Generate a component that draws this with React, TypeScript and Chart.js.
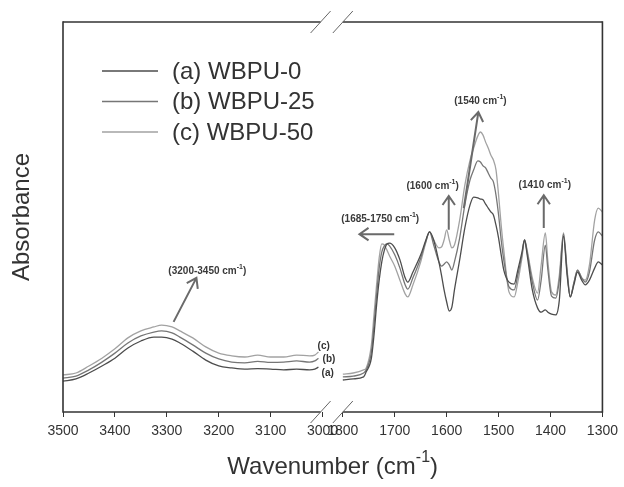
import React, { useEffect, useRef } from 'react';
import { Chart, registerables } from 'chart.js';

Chart.register(...registerables);

// ---- data ----
const WN_LEFT = [3500, 3475, 3450, 3425, 3400, 3375, 3350, 3325, 3310, 3290, 3275, 3250, 3225, 3200, 3175, 3150, 3125, 3100, 3075, 3050, 3025, 3015, 3008];
const A_LEFT = [0.079, 0.085, 0.100, 0.118, 0.138, 0.164, 0.182, 0.192, 0.192, 0.187, 0.177, 0.156, 0.133, 0.118, 0.113, 0.110, 0.111, 0.110, 0.108, 0.110, 0.108, 0.110, 0.115];
const B_LEFT = [0.087, 0.092, 0.108, 0.128, 0.151, 0.177, 0.195, 0.205, 0.208, 0.203, 0.192, 0.172, 0.151, 0.136, 0.128, 0.126, 0.130, 0.127, 0.128, 0.131, 0.128, 0.131, 0.138];
const C_LEFT = [0.095, 0.100, 0.118, 0.138, 0.162, 0.190, 0.208, 0.218, 0.223, 0.218, 0.208, 0.190, 0.167, 0.151, 0.144, 0.141, 0.146, 0.141, 0.141, 0.146, 0.144, 0.146, 0.154];

const WN_RIGHT = [1800, 1780, 1760, 1755, 1745, 1740, 1735, 1730, 1725, 1720, 1715, 1710, 1700, 1690, 1680, 1675, 1665, 1650, 1640, 1633, 1625, 1615, 1610, 1605, 1600, 1595, 1590, 1585, 1575, 1565, 1555, 1548, 1540, 1535, 1530, 1525, 1520, 1515, 1510, 1505, 1500, 1495, 1490, 1480, 1470, 1463, 1455, 1450, 1445, 1435, 1425, 1418, 1410, 1405, 1398, 1390, 1383, 1375, 1368, 1362, 1355, 1348, 1340, 1333, 1325, 1315, 1308, 1300];
const A_RIGHT = [0.082, 0.085, 0.090, 0.103, 0.138, 0.197, 0.274, 0.338, 0.385, 0.415, 0.431, 0.433, 0.421, 0.390, 0.344, 0.333, 0.359, 0.403, 0.441, 0.462, 0.441, 0.385, 0.351, 0.313, 0.282, 0.259, 0.269, 0.313, 0.390, 0.472, 0.531, 0.551, 0.549, 0.546, 0.544, 0.533, 0.523, 0.513, 0.505, 0.479, 0.446, 0.403, 0.364, 0.333, 0.328, 0.364, 0.410, 0.441, 0.403, 0.313, 0.267, 0.256, 0.262, 0.256, 0.251, 0.249, 0.287, 0.451, 0.351, 0.295, 0.326, 0.359, 0.338, 0.326, 0.338, 0.369, 0.385, 0.377];
const B_RIGHT = [0.090, 0.092, 0.100, 0.108, 0.154, 0.223, 0.300, 0.369, 0.410, 0.426, 0.431, 0.426, 0.403, 0.369, 0.326, 0.315, 0.344, 0.395, 0.438, 0.462, 0.428, 0.385, 0.374, 0.379, 0.385, 0.377, 0.364, 0.385, 0.446, 0.531, 0.595, 0.621, 0.644, 0.641, 0.631, 0.626, 0.613, 0.600, 0.590, 0.556, 0.505, 0.441, 0.390, 0.321, 0.313, 0.351, 0.403, 0.441, 0.410, 0.333, 0.287, 0.338, 0.428, 0.364, 0.297, 0.292, 0.338, 0.456, 0.359, 0.295, 0.331, 0.364, 0.344, 0.333, 0.359, 0.441, 0.462, 0.451];
const C_RIGHT = [0.097, 0.100, 0.108, 0.113, 0.172, 0.249, 0.326, 0.395, 0.431, 0.428, 0.415, 0.400, 0.374, 0.338, 0.303, 0.295, 0.326, 0.385, 0.436, 0.462, 0.441, 0.421, 0.423, 0.441, 0.467, 0.441, 0.421, 0.428, 0.492, 0.582, 0.646, 0.677, 0.708, 0.718, 0.710, 0.692, 0.677, 0.659, 0.646, 0.621, 0.556, 0.479, 0.415, 0.308, 0.295, 0.333, 0.395, 0.441, 0.415, 0.344, 0.305, 0.377, 0.459, 0.385, 0.308, 0.300, 0.351, 0.459, 0.364, 0.295, 0.331, 0.364, 0.344, 0.338, 0.377, 0.492, 0.523, 0.513];

const SERIES_LABELS = ['(a) WBPU-0', '(b) WBPU-25', '(c) WBPU-50'];
const END_LABELS = ['(a)', '(b)', '(c)'];
const END_LABEL_Y = [0.100, 0.136, 0.169];
const SERIES_COLORS = ['#4d4d4d', '#767676', '#a2a2a2'];
const TICK_WN = [3500, 3400, 3300, 3200, 3100, 3000, 1800, 1700, 1600, 1500, 1400, 1300];
const X_TITLE = 'Wavenumber (cm^{-1})';
const Y_TITLE = 'Absorbance';
const ANNOTATIONS = [
  { text: '(3200-3450 cm^{-1})', tx: 3222, ty: 0.362, from: [3287, 0.231], to: [3243, 0.344] },
  { text: '(1685-1750 cm^{-1})', tx: 1728, ty: 0.495, from: [1701, 0.456], to: [1768, 0.456] },
  { text: '(1600 cm^{-1})', tx: 1627, ty: 0.579, from: [1596, 0.467], to: [1596, 0.554] },
  { text: '(1540 cm^{-1})', tx: 1535, ty: 0.797, from: [1567, 0.523], to: [1539, 0.769] },
  { text: '(1410 cm^{-1})', tx: 1411, ty: 0.582, from: [1413, 0.472], to: [1413, 0.556] },
];

// broken axis: left block 3500..3000, gap, right block 1800..1300
const GAP = 39;
const toU = (wn: number) => (wn > 2400 ? 3500 - wn : 500 + GAP + (1800 - wn));

const FONT = '"Liberation Sans", Arial, Helvetica, sans-serif';

function buildData(wl: number[], l: number[], wr: number[], r: number[]) {
  return [
    ...wl.map((w, i) => ({ x: toU(w), y: l[i] })),
    { x: 500 + GAP / 2, y: null },
    ...wr.map((w, i) => ({ x: toU(w), y: r[i] })),
  ];
}

function drawRich(ctx: CanvasRenderingContext2D, str: string, cx: number, cy: number, size: number, bold: boolean, color: string, align: 'center' | 'left' = 'center') {
  const parts = str.split(/\^\{|\}/);
  const w = bold ? 'bold ' : '';
  const fMain = `${w}${size}px ${FONT}`;
  const supSize = Math.round(size * 0.65);
  const fSup = `${w}${supSize}px ${FONT}`;
  const widths = parts.map((p, i) => {
    ctx.font = i % 2 === 1 ? fSup : fMain;
    return ctx.measureText(p).width;
  });
  const total = widths.reduce((a, b) => a + b, 0);
  let x = align === 'center' ? cx - total / 2 : cx;
  ctx.fillStyle = color;
  ctx.textBaseline = 'middle';
  ctx.textAlign = 'left';
  parts.forEach((p, i) => {
    const sup = i % 2 === 1;
    ctx.font = sup ? fSup : fMain;
    ctx.fillText(p, x, sup ? cy - size * 0.38 : cy);
    x += widths[i];
  });
}

function arrow(ctx: CanvasRenderingContext2D, x1: number, y1: number, x2: number, y2: number) {
  const ang = Math.atan2(y2 - y1, x2 - x1);
  const hl = 11;
  const ha = 0.6;
  ctx.beginPath();
  ctx.moveTo(x1, y1);
  ctx.lineTo(x2, y2);
  ctx.moveTo(x2 - hl * Math.cos(ang - ha), y2 - hl * Math.sin(ang - ha));
  ctx.lineTo(x2, y2);
  ctx.lineTo(x2 - hl * Math.cos(ang + ha), y2 - hl * Math.sin(ang + ha));
  ctx.stroke();
}

const decorPlugin = {
  id: 'decor',
  afterDraw(chart: any) {
    const ctx: CanvasRenderingContext2D = chart.ctx;
    const { left, right, top, bottom } = chart.chartArea;
    const xs = chart.scales.x;
    const ys = chart.scales.y;
    const px = (wn: number) => xs.getPixelForValue(toU(wn));
    const py = (v: number) => ys.getPixelForValue(v);
    const g1 = px(3000) - 2;
    const g2 = px(1800);

    ctx.save();
    ctx.lineCap = 'butt';
    // frame
    ctx.strokeStyle = '#333';
    ctx.lineWidth = 1.6;
    const seg = (a: number, b: number, c: number, d: number) => {
      ctx.beginPath();
      ctx.moveTo(a, b);
      ctx.lineTo(c, d);
      ctx.stroke();
    };
    seg(left, top - 0.8, left, bottom + 0.8);
    seg(right, top - 0.8, right, bottom + 0.8);
    seg(left, top, g1, top);
    seg(g2, top, right, top);
    seg(left, bottom, g1, bottom);
    seg(g2, bottom, right, bottom);
    // break slashes
    ctx.strokeStyle = '#666';
    ctx.lineWidth = 1;
    [g1, g2].forEach((cx) => {
      [top, bottom].forEach((yy) => seg(cx - 10, yy + 11, cx + 10, yy - 11));
    });

    // legend
    SERIES_LABELS.forEach((lab, i) => {
      const ly = top + 49 + i * 30.5;
      ctx.strokeStyle = SERIES_COLORS[i];
      ctx.lineWidth = 1.4;
      seg(left + 39, ly, left + 95, ly);
      ctx.font = `24px ${FONT}`;
      ctx.fillStyle = '#333';
      ctx.textBaseline = 'middle';
      ctx.textAlign = 'left';
      ctx.fillText(lab, left + 109, ly + 1);
    });

    // end labels
    const endOff = [-1, 0, -5];
    END_LABELS.forEach((lab, i) => {
      ctx.font = `bold 10px ${FONT}`;
      ctx.fillStyle = '#333';
      ctx.textBaseline = 'middle';
      ctx.textAlign = 'left';
      ctx.fillText(lab, px(3000) + endOff[i], py(END_LABEL_Y[i]));
    });

    // annotations
    ANNOTATIONS.forEach((a) => {
      ctx.strokeStyle = '#6a6a6a';
      ctx.lineWidth = 2;
      arrow(ctx, px(a.from[0]), py(a.from[1]), px(a.to[0]), py(a.to[1]));
      drawRich(ctx, a.text, px(a.tx), py(a.ty), 10, true, '#3a3a3a');
    });

    // axis titles
    drawRich(ctx, X_TITLE, (left + right) / 2, 467, 24, false, '#333');
    ctx.save();
    ctx.translate(22, (top + bottom) / 2);
    ctx.rotate(-Math.PI / 2);
    ctx.font = `24px ${FONT}`;
    ctx.fillStyle = '#333';
    ctx.textAlign = 'center';
    ctx.textBaseline = 'middle';
    ctx.fillText(Y_TITLE, 0, 0);
    ctx.restore();

    ctx.restore();
  },
};

export default function App() {
  const ref = useRef<HTMLCanvasElement | null>(null);
  useEffect(() => {
    if (!ref.current) return;
    const series = [
      buildData(WN_LEFT, A_LEFT, WN_RIGHT, A_RIGHT),
      buildData(WN_LEFT, B_LEFT, WN_RIGHT, B_RIGHT),
      buildData(WN_LEFT, C_LEFT, WN_RIGHT, C_RIGHT),
    ];
    const chart = new Chart(ref.current, {
      type: 'line',
      data: {
        datasets: series.map((d, i) => ({
          label: SERIES_LABELS[i],
          data: d as any,
          borderColor: SERIES_COLORS[i],
          borderWidth: 1.3,
          pointRadius: 0,
          fill: false,
          spanGaps: false,
          cubicInterpolationMode: 'monotone' as const,
        })),
      },
      options: {
        responsive: false,
        animation: false,
        devicePixelRatio: 1,
        layout: { padding: { left: 63, right: 17, top: 22, bottom: 0 } },
        plugins: { legend: { display: false }, tooltip: { enabled: false }, title: { display: false } },
        scales: {
          x: {
            type: 'linear',
            min: 0,
            max: toU(1300),
            afterBuildTicks: (s: any) => {
              s.ticks = TICK_WN.map((w) => ({ value: toU(w) }));
            },
            afterFit: (s: any) => {
              s.height = 75;
            },
            ticks: {
              autoSkip: false,
              maxRotation: 0,
              minRotation: 0,
              padding: 6,
              color: '#333',
              font: { family: FONT, size: 14 },
              callback: (_v: any, i: number) => String(TICK_WN[i]),
            },
            grid: { display: true, drawOnChartArea: false, drawTicks: true, tickLength: 5, color: '#333', lineWidth: 1 },
            border: { display: false },
          },
          y: { type: 'linear', min: 0, max: 1, display: false },
        },
      },
      plugins: [decorPlugin],
    });
    return () => chart.destroy();
  }, []);
  return (
    <div style={{ position: 'fixed', left: 0, top: 0, width: 624, height: 487, background: '#fff' }}>
      <canvas ref={ref} width={624} height={487} style={{ display: 'block' }} />
    </div>
  );
}
